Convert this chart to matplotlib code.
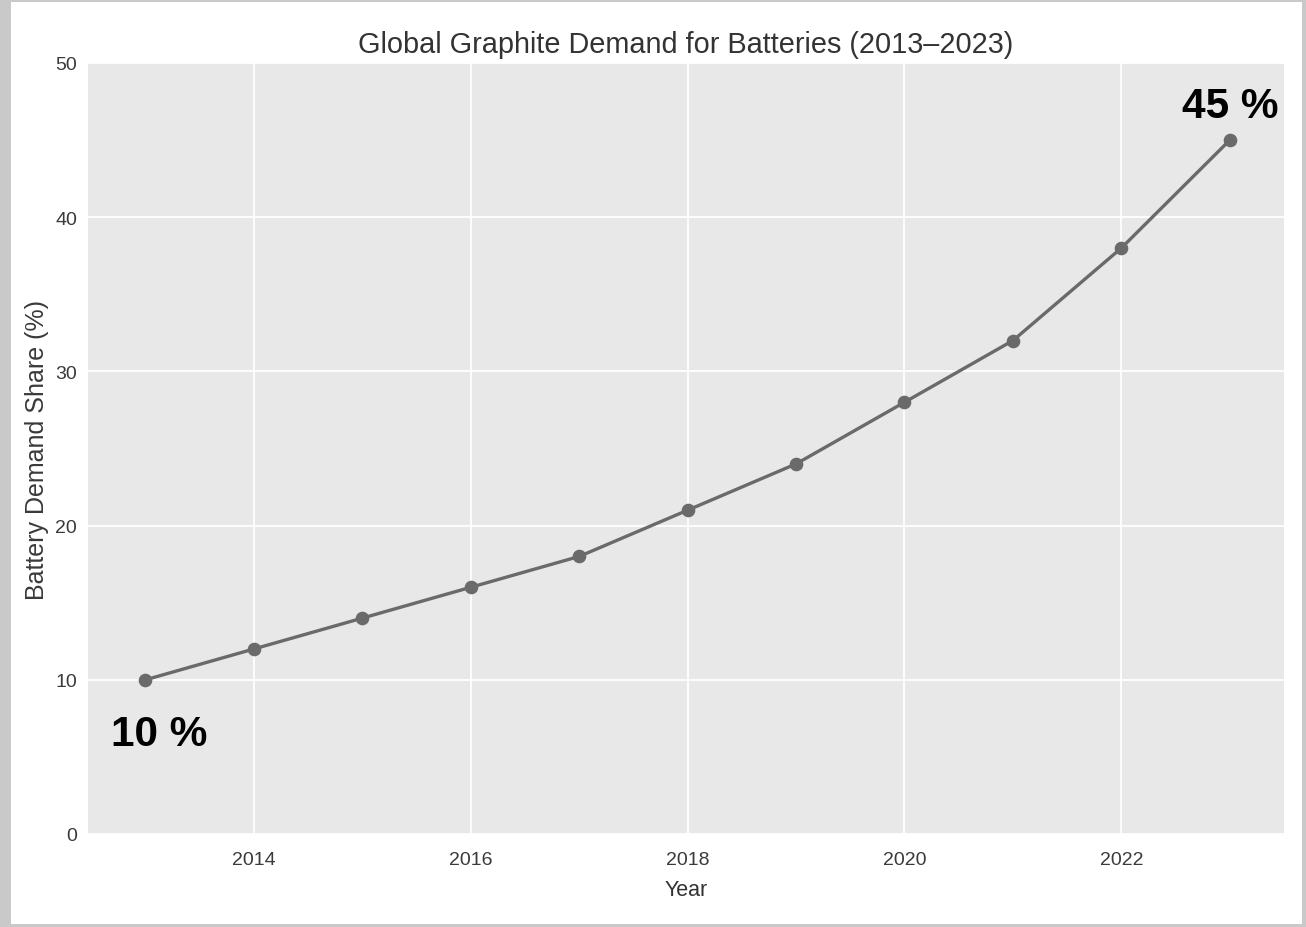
import matplotlib
matplotlib.use("Agg")
import matplotlib.pyplot as plt
from matplotlib.patches import Rectangle

years = [2013, 2014, 2015, 2016, 2017, 2018, 2019, 2020, 2021, 2022, 2023]
share = [10, 12, 14, 16, 18, 21, 24, 28, 32, 38, 45]
xticks = [2014, 2016, 2018, 2020, 2022]
yticks = [0, 10, 20, 30, 40, 50]

plt.rcParams['font.family'] = ['Liberation Sans', 'DejaVu Sans']

fig = plt.figure(figsize=(13.06, 9.28), dpi=100, facecolor='#c9c9c9')
# white card on top of the grey backdrop
fig.patches.append(Rectangle((11 / 1306, 3 / 928), 1291 / 1306, 922 / 928,
                             transform=fig.transFigure, facecolor='white',
                             edgecolor='none', zorder=-10))

ax = fig.add_axes([88 / 1306, 1 - 835 / 928, 1196 / 1306, 771 / 928])
ax.set_zorder(1)
ax.set_facecolor('#e8e8e8')
for s in ax.spines.values():
    s.set_visible(False)
ax.grid(color='white', linewidth=1.3)
ax.set_axisbelow(True)

ax.plot(years, share, color='#6a6a6a', linewidth=2.4, marker='o', markersize=8.8)

ax.set_xlim(2012.47, 2023.5)
ax.set_ylim(0, 50)
ax.set_xticks(xticks)
ax.set_yticks(yticks)
ax.tick_params(length=0, labelcolor='#3a3a3a', labelsize=14)
ax.tick_params(axis='y', pad=8)
ax.tick_params(axis='x', pad=12)

ax.set_title('Global Graphite Demand for Batteries (2013\u20132023)',
             fontsize=20.8, color='#333333', pad=8)
ax.set_xlabel('Year', fontsize=15.5, color='#333333', labelpad=8)
ax.set_ylabel('Battery Demand Share (%)', fontsize=18, color='#3a3a3a')
# ylabel anchored by its right edge, just left of the tick labels
ax.yaxis.set_label_coords(-0.033, 0.5)

ax.annotate(f'{share[0]} %', (years[0], share[0]), xytext=(10, -39),
            textcoords='offset points', ha='center', va='center',
            fontsize=30.5, fontweight='bold', color='black')
ax.annotate(f'{share[-1]} %', (years[-1], share[-1]), xytext=(0, 24.5),
            textcoords='offset points', ha='center', va='center',
            fontsize=30.5, fontweight='bold', color='black')

fig.savefig('out.png', dpi=100, facecolor=fig.get_facecolor())
